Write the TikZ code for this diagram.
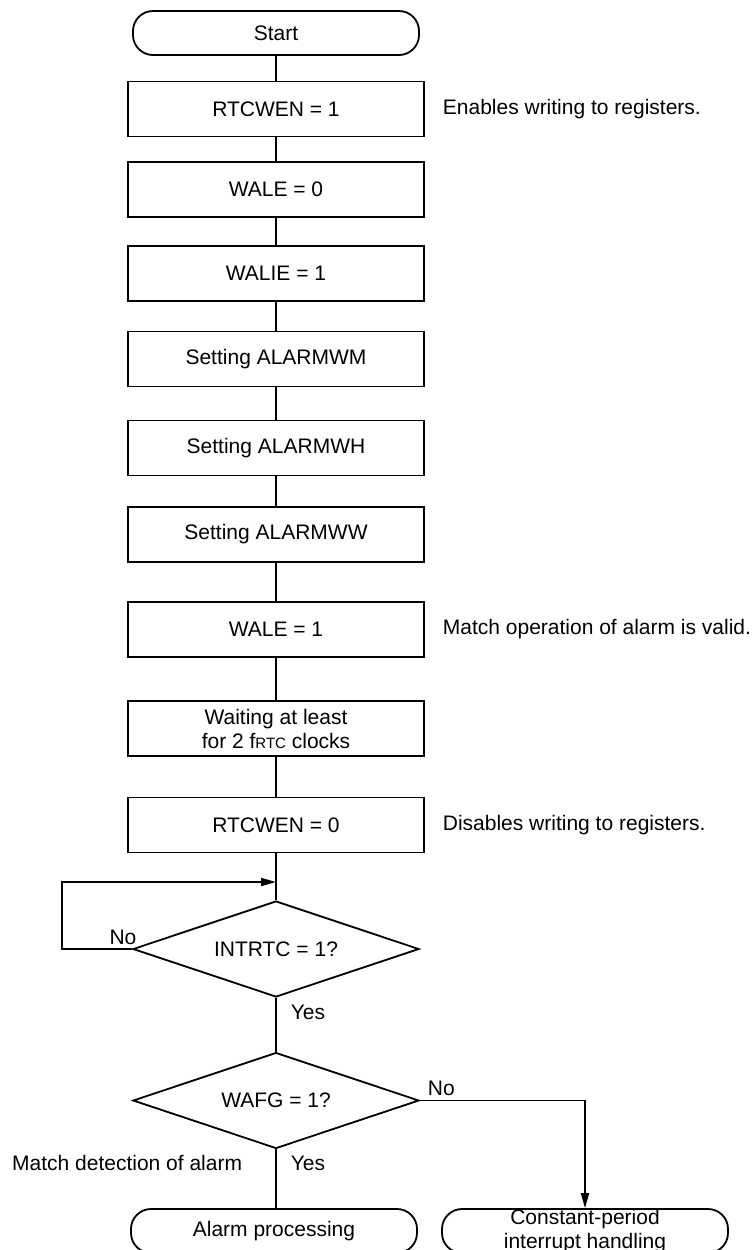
\documentclass[tikz,border=0pt]{standalone}
\usepackage{fontspec}
\setmainfont{Liberation Sans}
\usetikzlibrary{shapes.geometric,arrows.meta,positioning}

\begin{document}
\begin{tikzpicture}[x=0.5pt,y=-0.5pt,line width=0.9pt,font=\fontsize{10.5}{12}\selectfont,
 s/.style={draw,minimum width=148pt,minimum height=27.5pt,inner sep=1pt,align=center},
 term/.style={draw,rounded corners=10pt,minimum width=143pt,minimum height=22pt,inner sep=0pt,align=center},
 dec/.style={draw,diamond,aspect=3,inner sep=0pt,minimum width=143pt,minimum height=48pt},
 lbl/.style={inner sep=0pt},
 arr/.style={-{Triangle[length=7.5pt,width=4pt]}}]
\useasboundingbox (0,0) rectangle (756,1250);
\node[term](st) at (276,33){Start};
\node[s](en) at (276,109){RTCWEN = 1};
\node[s](w0) at (276,189.5){WALE = 0};
\node[s](wi) at (276,273.5){WALIE = 1};
\node[s](am) at (276,359){Setting ALARMWM};
\node[s](ah) at (276,448){Setting ALARMWH};
\node[s](aw) at (276,534.5){Setting ALARMWW};
\node[s](w1) at (276,629.5){WALE = 1};
\node[s](wt) at (276,728.5){Waiting at least\\for 2 f{\fontsize{7.5}{9}\selectfont RTC} clocks};
\node[s](dis) at (276,825){RTCWEN = 0};
\coordinate (lp) at (276,882);
\node[dec](q1) at (276,949){INTRTC = 1?};
\node[dec](q2) at (276,1100.5){WAFG = 1?};
\node[term](al) at (274,1231){Alarm processing};
\node[term](cp) at (585,1231){Constant-period\\interrupt handling};
% side notes
\node[lbl,anchor=west](n1) at (442,109){Enables writing to registers.};
\node[lbl,anchor=west](n2) at (442,629.5){Match operation of alarm is valid.};
\node[lbl,anchor=west](n3) at (442,825){Disables writing to registers.};
\node[lbl,anchor=east](n4) at (243,1163){Match detection of alarm};
\node[lbl](no1) at (123,937){No};
\node[lbl,anchor=west](ye1) at (290,1012){Yes};
\node[lbl,anchor=west](no2) at (427,1088){No};
\node[lbl,anchor=west](ye2) at (290,1163){Yes};
\draw(st)--(en);\draw(en)--(w0);\draw(w0)--(wi);\draw(wi)--(am);\draw(am)--(ah);
\draw(ah)--(aw);\draw(aw)--(w1);\draw(w1)--(wt);\draw(wt)--(dis);\draw(dis)--(q1);
\draw[arr](q1.west)--++(-70,0)|-(lp);
\draw(q1)--(q2);\draw(q2.south)--(q2.south|-al.north);
\draw[arr](q2.east)-|(cp.north);
\end{tikzpicture}
\end{document}
